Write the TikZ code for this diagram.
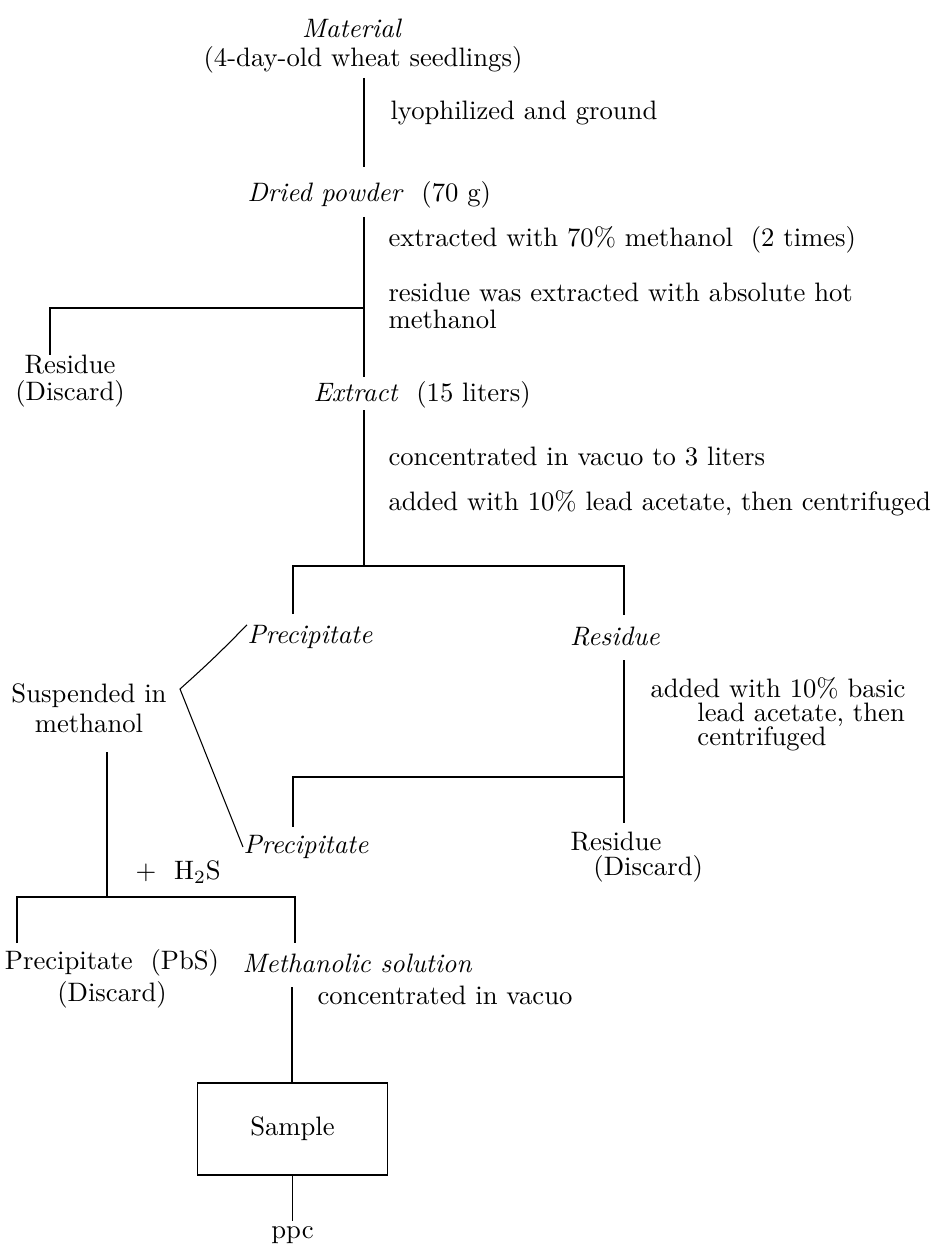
\documentclass[tikz,border=0pt]{standalone}
\usepackage{tikz}
\usetikzlibrary{positioning}

\begin{document}
\begin{tikzpicture}[x=0.375pt,y=-0.375pt,
    every node/.style={inner sep=0pt},
    lbl/.style={anchor=west, align=left},
    cnt/.style={align=center}]
    \useasboundingbox (0,0) rectangle (944,1248);

    % Material
    \node (mat) at (352,28) {\textit{Material}};
    \node (seed) at (363,60) {(4-day-old wheat seedlings)};
    \node[lbl] (lyo) at (390,113) {lyophilized and ground};
    \node[lbl] (dried) at (247,195) {\textit{Dried powder}\ \ (70 g)};

    % Extraction
    \node[lbl] (ext1) at (388,240) {extracted with 70\% methanol\ \ (2 times)};
    \node[lbl] (ext2) at (388,306) {residue was extracted with absolute hot\\[-2pt]methanol};
    \node[cnt] (res1) at (70,381) {Residue\\[-2pt](Discard)};
    \node[lbl] (extr) at (313,395) {\textit{Extract}\ \ (15 liters)};
    \node[lbl] (conc1) at (388,457) {concentrated in vacuo to 3 liters};
    \node[lbl] (lead) at (388,503) {added with 10\% lead acetate, then centrifuged};

    % Lead acetate fractions
    \node[lbl] (prec1) at (247,637) {\textit{Precipitate}};
    \node (res2) at (615,637) {\textit{Residue}};
    \node[cnt] (susp) at (89,708) {Suspended in\\[-0.75pt]methanol};
    \node[lbl] (basic) at (650,714) {added with 10\% basic\\[-3pt]\hspace{17.6pt}lead acetate, then\\[-3pt]\hspace{17.6pt}centrifuged};
    \node[lbl] (prec2) at (243,847) {\textit{Precipitate}};
    \node[lbl] (res3) at (570,857) {Residue\\[-2.6pt]\hspace{8.6pt}(Discard)};

    % H2S
    \node[lbl] (hs) at (135,872) {$+$\ \ H$_2$S};
    \node[cnt] (pbs) at (112,979) {Precipitate\ \ (PbS)\\(Discard)};
    \node[lbl] (meth) at (242,963) {\textit{Methanolic solution}};
    \node[lbl] (conc2) at (317,995) {concentrated in vacuo};
    \node[draw, minimum width=71.25pt, minimum height=34.5pt] (box) at (292.5,1129) {Sample};
    \node (ppc) at (292.5,1235) {ppc};

    % Stems
    \coordinate (s1a) at (364,78);   \coordinate (s1b) at (364,167);
    \coordinate (s2a) at (364,217);  \coordinate (s2b) at (364,377);
    \coordinate (j1) at (364,308);   \coordinate (j1l) at (50,308);  \coordinate (j1e) at (50,355);
    \draw (s1a) -- (s1b);
    \draw (s2a) -- (s2b);
    \draw (j1) -- (j1l) -- (j1e);

    \coordinate (s3a) at (364,410);  \coordinate (s3b) at (364,566);
    \coordinate (j2l) at (293,566);  \coordinate (j2r) at (624,566);
    \coordinate (j2le) at (293,614); \coordinate (j2re) at (624,615);
    \draw (s3a) -- (s3b);
    \draw (j2le) -- (j2l) -- (j2r) -- (j2re);

    \coordinate (s4a) at (624,660);  \coordinate (s4b) at (624,823);
    \coordinate (j3r) at (624,777);  \coordinate (j3l) at (293,777); \coordinate (j3e) at (293,827);
    \draw (s4a) -- (s4b);
    \draw (j3r) -- (j3l) -- (j3e);

    % Suspension
    \coordinate (tip) at (180,689);
    \draw (prec1.north west) to[bend left=2] (tip) -- (prec2.west);

    \coordinate (s5a) at (107,752);  \coordinate (s5b) at (107,897);
    \coordinate (j4l) at (17,897);   \coordinate (j4r) at (295,897);
    \coordinate (j4le) at (17,943);  \coordinate (j4re) at (295,943);
    \draw (s5a) -- (s5b);
    \draw (j4le) -- (j4l) -- (j4r) -- (j4re);

    \coordinate (s6a) at (292,987);
    \draw (s6a) -- (s6a |- box.north);
    \draw[shorten >=2pt] (box.south) -- (ppc.north);
\end{tikzpicture}
\end{document}
